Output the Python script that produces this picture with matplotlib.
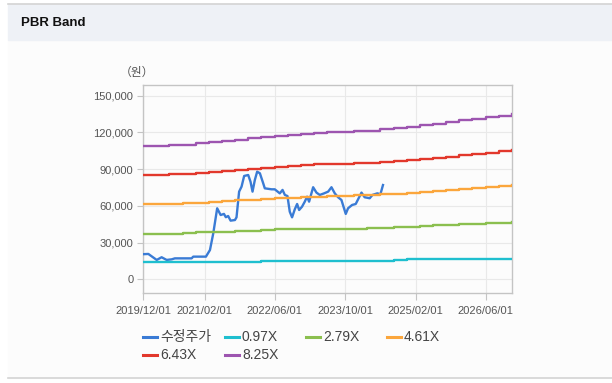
import matplotlib
matplotlib.use('Agg')
import matplotlib.pyplot as plt
import matplotlib.dates as mdates
from matplotlib.lines import Line2D
from matplotlib.patches import Rectangle
from matplotlib.ticker import FuncFormatter
import pandas as pd

# adjusted share price (수정주가), thousand won
price_dates = [
    '2019-12-01', '2020-01-07', '2020-03-05', '2020-04-08', '2020-05-13', '2020-06-17',
    '2020-07-09', '2020-11-02', '2020-11-13', '2021-02-09', '2021-03-09', '2021-04-01',
    '2021-04-28', '2021-05-22', '2021-06-14', '2021-06-27', '2021-07-13', '2021-07-30',
    '2021-08-29', '2021-09-09', '2021-09-27', '2021-10-14', '2021-11-01', '2021-11-29',
    '2021-12-15', '2021-12-29', '2022-01-14', '2022-01-30', '2022-02-18', '2022-03-13',
    '2022-03-24', '2022-05-10', '2022-06-01', '2022-07-06', '2022-07-25', '2022-08-10',
    '2022-08-28', '2022-09-13', '2022-09-29', '2022-10-18', '2022-11-03', '2022-11-17',
    '2022-12-07', '2022-12-26', '2023-01-11', '2023-01-25', '2023-02-22', '2023-03-17',
    '2023-04-09', '2023-05-09', '2023-06-06', '2023-06-29', '2023-07-22', '2023-08-14',
    '2023-09-06', '2023-10-06', '2023-10-22', '2023-11-19', '2023-12-14', '2024-01-23',
    '2024-02-14', '2024-03-20', '2024-04-08', '2024-05-12', '2024-06-02', '2024-06-20',
]
price_vals = [
    20.5, 20.7, 15.8, 18.0, 15.8, 16.3,
    17.1, 17.1, 18.5, 18.5, 23.9, 37.6,
    58.0, 52.5, 53.4, 50.7, 51.7, 47.9,
    48.4, 50.6, 71.6, 75.7, 84.4, 85.2,
    79.7, 71.6, 81.1, 87.9, 86.6, 78.4,
    74.3, 73.5, 73.5, 70.2, 73.0, 68.9,
    68.0, 55.2, 50.6, 57.2, 61.5, 56.6,
    59.3, 63.4, 67.5, 63.4, 75.2, 70.8,
    68.9, 70.2, 71.6, 75.2, 70.2, 67.0,
    64.8, 53.4, 58.0, 60.7, 61.5, 70.8,
    67.0, 66.2, 68.9, 70.2, 69.4, 77.0,
]

# PBR band lines, quarterly, thousand won
band_labels = ['0.97X', '2.79X', '4.61X', '6.43X', '8.25X']
band_colors = ['#1fbfcf', '#8bbf4f', '#fba63c', '#e2382c', '#9d55b0']
band_097 = [13.8, 13.8, 13.8, 13.8, 13.8, 13.8, 13.8, 13.8, 13.8, 14.9,
            15.0, 15.0, 15.0, 15.0, 15.0, 15.0, 15.0, 15.0, 15.0, 16.1,
            16.2, 16.2, 16.3, 16.3, 16.4, 16.4, 16.9, 16.9, 16.9]
band_279 = [37.0, 37.0, 37.0, 38.2, 38.4, 38.6, 38.9, 39.3, 39.7, 40.2,
            40.7, 41.0, 41.1, 41.2, 41.2, 41.3, 41.3, 41.5, 41.9, 42.4,
            43.0, 43.6, 44.0, 44.5, 45.0, 45.4, 45.8, 46.2, 46.6]
band_461 = [61.4, 61.4, 61.6, 62.0, 62.6, 63.2, 63.8, 64.4, 65.0, 65.6,
            66.2, 66.6, 66.9, 67.3, 67.7, 68.1, 68.5, 68.9, 69.3, 69.7,
            70.5, 71.3, 72.2, 73.0, 73.9, 74.8, 75.6, 76.4, 77.0]
band_643 = [85.0, 85.0, 85.8, 86.3, 86.8, 87.4, 88.3, 89.2, 90.1, 91.0,
            91.9, 92.8, 93.6, 94.3, 94.5, 94.5, 94.6, 95.3, 96.0, 96.7,
            97.2, 98.0, 99.1, 100.2, 101.3, 102.4, 103.5, 104.6, 105.7]
band_825 = [108.5, 109.0, 109.5, 110.0, 111.0, 112.0, 113.0, 114.0, 115.0, 116.0,
            117.0, 118.0, 119.0, 119.8, 120.3, 120.6, 120.9, 121.3, 122.5, 123.5,
            124.6, 125.9, 127.2, 128.5, 129.8, 131.1, 132.4, 133.7, 135.0]
band_dates = pd.date_range('2019-12-01', periods=29, freq='3MS')

x_ticks = ['2019-12-01', '2021-02-01', '2022-06-01', '2023-10-01', '2025-02-01', '2026-06-01']
y_ticks = [0, 30000, 60000, 90000, 120000, 150000]


def main():
    W, H = 612, 383
    fig = plt.figure(figsize=(W / 100, H / 100), dpi=100, facecolor='white')

    # page panel, header band and borders
    fig.patches.append(Rectangle((8 / W, 1 - 378 / H), 1, (378 - 40) / H,
                                 transform=fig.transFigure, color='#fcfcfc', zorder=-5))
    fig.patches.append(Rectangle((8 / W, 1 - 40 / H), 1, 36 / H,
                                 transform=fig.transFigure, color='#eef1f6', zorder=-5))
    fig.add_artist(Line2D([8 / W, 1], [1 - 4 / H] * 2, color='#d4d4d4', lw=1.2))
    fig.add_artist(Line2D([8 / W, 1], [1 - 378 / H] * 2, color='#d4d4d4', lw=1.2))
    fig.text(21 / W, 1 - 23 / H, 'PBR Band', fontsize=9.5, fontweight='bold',
             family=['Liberation Sans', 'DejaVu Sans'], va='center', color='#111111')

    ax = fig.add_axes([143 / W, 1 - 293 / H, 369 / W, 208 / H])
    ax.set_facecolor('none')
    ax.set_zorder(2)

    lines = []
    ln, = ax.plot(pd.to_datetime(price_dates), [v * 1000 for v in price_vals],
                  color='#3a7bd5', lw=1.7, label='수정주가', zorder=3)
    lines.append(ln)
    for vals, lab, col in zip([band_097, band_279, band_461, band_643, band_825],
                              band_labels, band_colors):
        ln, = ax.plot(band_dates, [v * 1000 for v in vals], color=col, lw=1.7,
                      drawstyle='steps-post', label=lab, zorder=4)
        lines.append(ln)

    ax.set_xlim(pd.Timestamp('2019-12-01'), pd.Timestamp('2026-12-01'))
    ax.set_ylim(-11200, 158700)
    ax.set_xticks(pd.to_datetime(x_ticks))
    ax.xaxis.set_major_formatter(mdates.DateFormatter('%Y/%m/%d'))
    ax.set_yticks(y_ticks)
    ax.yaxis.set_major_formatter(FuncFormatter(lambda v, p: f'{int(v):,}'))
    ax.grid(True, color='#e9e9e9', lw=0.8, zorder=0)
    for s in ax.spines.values():
        s.set_color('#c4c4c4')
        s.set_linewidth(1.0)
    ax.tick_params(axis='x', length=5, color='#c4c4c4', labelsize=8, labelcolor='#555555', pad=4)
    ax.tick_params(axis='y', length=4, color='#c4c4c4', labelsize=8, labelcolor='#555555', pad=3)
    for t in ax.get_xticklabels() + ax.get_yticklabels():
        t.set_family(['Liberation Sans', 'DejaVu Sans'])

    fig.text(137 / W, 1 - 72 / H, '（원）', fontsize=8.5, color='#555555',
             family=['Noto Sans CJK KR', 'DejaVu Sans'], ha='center', va='center')

    # legend, fixed column grid
    col_x = [143, 225, 306, 387]
    row_y = [337, 355]
    for i, ln in enumerate(lines):
        x0 = col_x[i % 4]
        y0 = row_y[i // 4]
        fig.add_artist(Line2D([x0 / W, (x0 + 14) / W], [1 - y0 / H] * 2,
                              color=ln.get_color(), lw=2.2))
        fig.text((x0 + 17) / W, 1 - y0 / H, ln.get_label(), fontsize=10, color='#444444',
                 family=['Liberation Sans', 'Noto Sans CJK KR'], va='center', ha='left')

    fig.savefig('out.png', dpi=100, facecolor='white')


if __name__ == '__main__':
    main()
